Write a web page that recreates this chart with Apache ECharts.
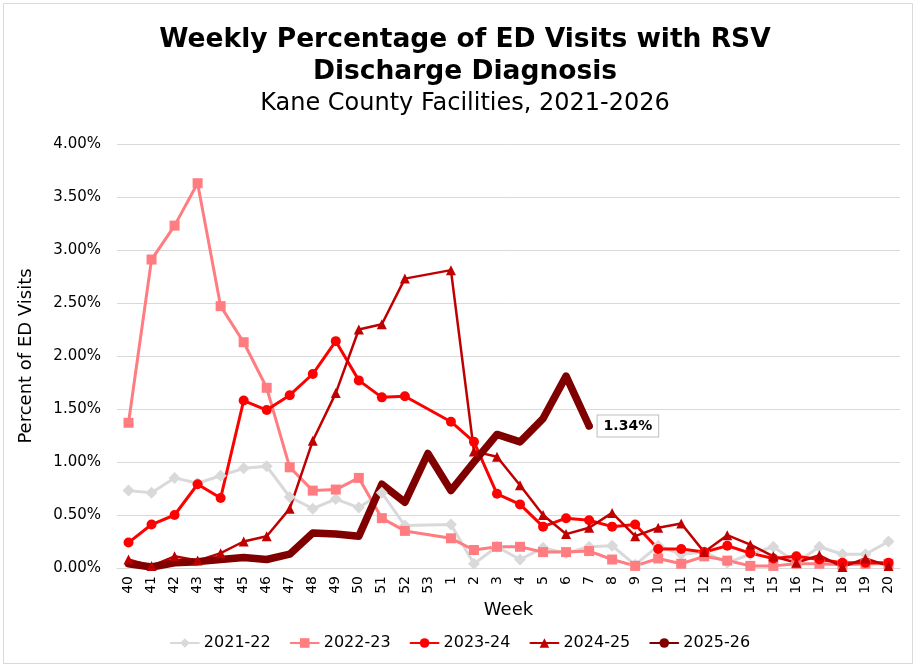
<!DOCTYPE html>
<html>
<head>
<meta charset="utf-8">
<title>Weekly Percentage of ED Visits with RSV Discharge Diagnosis</title>
<script src="https://cdn.jsdelivr.net/npm/echarts@6/dist/echarts.min.js"></script>
<style>
  html, body { margin: 0; padding: 0; background: #fff; }
  #chart { width: 920px; height: 670px; }
</style>
</head>
<body>
<div id="chart"></div>
<script>
// MMWR weeks, season runs week 40 -> week 20
const weeks = ['40', '41', '42', '43', '44', '45', '46', '47', '48', '49', '50', '51', '52', '53',
  '1', '2', '3', '4', '5', '6', '7', '8', '9', '10', '11', '12', '13', '14', '15', '16', '17', '18', '19', '20'];

const seasons = ['2021-22', '2022-23', '2023-24', '2024-25', '2025-26'];

// percent of ED visits (null = no week 53 that season / not reported yet)
const pct2122 = [0.73, 0.71, 0.85, 0.80, 0.87, 0.94, 0.96, 0.67, 0.56, 0.65, 0.57, 0.71, 0.40, null,
  0.41, 0.04, 0.20, 0.08, 0.19, 0.14, 0.20, 0.21, 0.03, 0.21, 0.13, 0.15, 0.05, 0.13, 0.20, 0.05, 0.20, 0.13, 0.13, 0.25];
const pct2223 = [1.37, 2.91, 3.23, 3.63, 2.47, 2.13, 1.70, 0.95, 0.73, 0.74, 0.85, 0.47, 0.35, null,
  0.28, 0.17, 0.20, 0.20, 0.15, 0.15, 0.16, 0.08, 0.02, 0.09, 0.04, 0.11, 0.07, 0.02, 0.02, 0.04, 0.04, 0.03, 0.04, 0.04];
const pct2324 = [0.24, 0.41, 0.50, 0.79, 0.66, 1.58, 1.49, 1.63, 1.83, 2.14, 1.77, 1.61, 1.62, null,
  1.38, 1.19, 0.70, 0.60, 0.39, 0.47, 0.45, 0.39, 0.41, 0.18, 0.18, 0.15, 0.21, 0.14, 0.09, 0.11, 0.08, 0.05, 0.05, 0.05];
const pct2425 = [0.08, 0.02, 0.11, 0.07, 0.14, 0.25, 0.30, 0.56, 1.20, 1.65, 2.25, 2.30, 2.73, null,
  2.81, 1.10, 1.05, 0.78, 0.50, 0.32, 0.38, 0.52, 0.30, 0.38, 0.42, 0.15, 0.31, 0.22, 0.11, 0.05, 0.12, 0.01, 0.09, 0.02];
const pct2526 = [0.04, 0.01, 0.05, 0.06, 0.08, 0.10, 0.08, 0.13, 0.33, 0.32, 0.30, 0.79, 0.62, 1.08,
  0.73, 1.00, 1.26, 1.19, 1.41, 1.81, 1.34, null, null, null, null, null, null, null, null, null, null, null, null, null];

const FONT = '"DejaVu Sans", Verdana, sans-serif';

const makeSeries = (name, data, color, symbol, symbolSize, width) => ({
  name,
  type: 'line',
  data,
  connectNulls: true,
  symbol,
  symbolSize,
  itemStyle: { color },
  lineStyle: { color, width, cap: 'round', join: 'round' },
  emphasis: { disabled: true },
});

// current season: label only the latest reported week
const lastIdx = pct2526.reduce((last, v, i) => (v !== null ? i : last), -1);
const currentData = pct2526.map((v, i) => {
  if (i !== lastIdx) return v;
  return {
    value: v,
    symbolSize: 7,
    label: {
      show: true,
      position: 'right',
      distance: 5,
      formatter: (p) => p.value.toFixed(2) + '%',
      fontFamily: FONT,
      fontSize: 14,
      fontWeight: 'bold',
      color: '#000',
      backgroundColor: '#fff',
      borderColor: '#bfbfbf',
      borderWidth: 1,
      padding: [4, 6, 3, 6],
    },
  };
});

const chart = echarts.init(document.getElementById('chart'), null, { renderer: 'canvas' });

chart.setOption({
  animation: false,
  backgroundColor: '#fff',
  title: [
    {
      text: 'Weekly Percentage of ED Visits with RSV\nDischarge Diagnosis',
      left: 460,
      top: 19,
      textAlign: 'center',
      textStyle: { fontFamily: FONT, fontSize: 26.5, fontWeight: 'bold', color: '#000', lineHeight: 32, align: 'center' },
    },
    {
      text: 'Kane County Facilities, 2021-2026',
      left: 460,
      top: 85,
      textAlign: 'center',
      textStyle: { fontFamily: FONT, fontSize: 24, fontWeight: 'normal', color: '#000', lineHeight: 28 },
    },
  ],
  legend: {
    data: seasons,
    bottom: 14,
    left: 'center',
    itemWidth: 28,
    itemHeight: 12,
    itemGap: 19,
    textStyle: { fontFamily: FONT, fontSize: 16, color: '#000' },
  },
  grid: { left: 117, right: 20, top: 144, bottom: 102 },
  xAxis: {
    type: 'category',
    data: weeks,
    name: 'Week',
    nameLocation: 'middle',
    nameGap: 30,
    nameTextStyle: { fontFamily: FONT, fontSize: 18, color: '#000' },
    axisLine: { lineStyle: { color: '#d9d9d9', width: 1 } },
    axisTick: { show: false },
    axisLabel: { rotate: 90, margin: 8, interval: 0, fontFamily: FONT, fontSize: 14, color: '#000' },
  },
  yAxis: {
    type: 'value',
    min: 0,
    max: 4,
    interval: 0.5,
    name: 'Percent of ED Visits',
    nameLocation: 'middle',
    nameGap: 82,
    nameTextStyle: { fontFamily: FONT, fontSize: 18, color: '#000' },
    axisLine: { show: false },
    axisTick: { show: false },
    splitLine: { lineStyle: { color: '#d9d9d9', width: 1 } },
    axisLabel: {
      margin: 16,
      fontFamily: FONT,
      fontSize: 15,
      color: '#000',
      formatter: (v) => v.toFixed(2) + '%',
    },
  },
  series: [
    makeSeries(seasons[0], pct2122, '#d9d9d9', 'diamond', 12, 3),
    makeSeries(seasons[1], pct2223, '#ff7c80', 'rect', 10, 3),
    makeSeries(seasons[2], pct2324, '#ff0000', 'circle', 10, 3),
    makeSeries(seasons[3], pct2425, '#c00000', 'triangle', 10, 2.5),
    makeSeries(seasons[4], currentData, '#800000', 'circle', 2, 7.5),
  ],
  graphic: [
    {
      type: 'rect',
      silent: true,
      shape: { x: 3.5, y: 3.5, width: 909, height: 660 },
      style: { fill: 'none', stroke: '#d9d9d9', lineWidth: 1 },
    },
  ],
});
</script>
</body>
</html>
